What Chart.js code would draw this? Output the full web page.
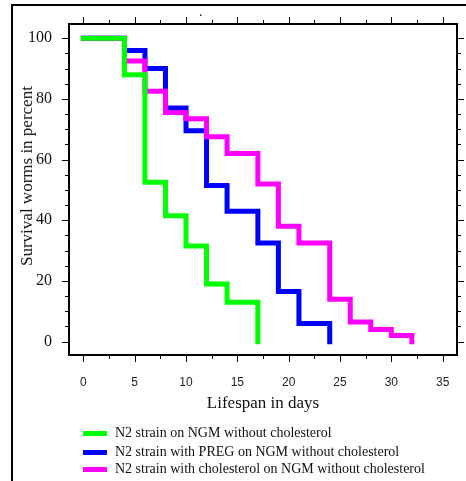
<!DOCTYPE html>
<html>
<head>
<meta charset="utf-8">
<script src="https://cdn.jsdelivr.net/npm/chart.js@4"></script>
<style>
  html, body { margin: 0; padding: 0; background: #fff; }
  #wrap { position: relative; width: 466px; height: 481px; overflow: hidden; font-family: "Liberation Serif", "Times New Roman", serif; color: #111; }
  #frame { position: absolute; left: 11px; top: 4px; width: 470px; height: 490px; border-left: 2px solid #000; border-top: 2px solid #000; }
  canvas { position: absolute; left: 0; top: 0; }
  #dot { position: absolute; left: 199px; top: 4px; font-size: 14px; }
  #ytitle { position: absolute; left: 27px; top: 176px; font-size: 17px; white-space: nowrap; transform: translate(-50%, -50%) rotate(-90deg); }
  .leg { position: absolute; left: 83px; height: 18px; display: flex; align-items: center; font-size: 14px; white-space: nowrap; }
  .sw { width: 24px; height: 5px; margin-right: 8px; }
</style>
</head>
<body>
<div id="wrap">
  <div id="frame"></div>
  <canvas id="c" width="466" height="481"></canvas>
  <span id="dot">.</span>
  <div id="ytitle">Survival worms in percent</div>
  <div class="leg" style="top:424px"><span class="sw" style="background:#00ff00"></span><span id="l0"></span></div>
  <div class="leg" style="top:443px"><span class="sw" style="background:#0000ff"></span><span id="l1"></span></div>
  <div class="leg" style="top:460px"><span class="sw" style="background:#ff00ff"></span><span id="l2"></span></div>
</div>
<script>
const seriesLabels = [
  "N2 strain on NGM without cholesterol",
  "N2 strain with PREG on NGM without cholesterol",
  "N2 strain with cholesterol on NGM without cholesterol"
];

// survival curves: day of each drop, % alive from that day on
const greenDays = [0, 4, 6, 8, 10, 12, 14, 17];
const greenSurvival = [100, 88, 52.5, 41.5, 31.5, 19, 13, 0];

const blueDays = [0, 4, 6, 8, 10, 12, 14, 17, 19, 21, 24];
const blueSurvival = [100, 96, 90, 77, 69.5, 51.5, 43, 32.5, 16.5, 6, 0];

const pinkDays = [0, 4, 6, 8, 10, 12, 14, 17, 19, 21, 24, 26, 28, 30, 32];
const pinkSurvival = [100, 92.5, 82.5, 75.5, 73.5, 67.5, 62, 52, 38, 32.5, 14, 6.5, 4, 2, 0];

const xTicks = [0, 5, 10, 15, 20, 25, 30, 35];
const yTicks = [0, 20, 40, 60, 80, 100];

seriesLabels.forEach((t, i) => { document.getElementById("l" + i).textContent = t; });

const toPoints = (xs, ys) => xs.map((d, i) => ({ x: d, y: ys[i] }));

// box around the plot with outward ticks on all four sides
const framePlugin = {
  id: "frame",
  afterDraw(chart) {
    const { ctx, chartArea: a, scales: { x, y } } = chart;
    const line = (x1, y1, x2, y2) => { ctx.beginPath(); ctx.moveTo(x1, y1); ctx.lineTo(x2, y2); ctx.stroke(); };
    ctx.save();
    ctx.strokeStyle = "#000";
    ctx.lineWidth = 1;
    const xStep = (xTicks[1] - xTicks[0]) / 2;
    for (let v = xTicks[0]; v <= xTicks[xTicks.length - 1]; v += xStep) {
      const px = Math.round(x.getPixelForValue(v)) + 0.5;
      const len = v % (xStep * 2) === 0 ? 7 : 4;
      line(px, a.bottom, px, a.bottom + len);
      line(px, a.top, px, a.top - len);
    }
    const yStep = (yTicks[1] - yTicks[0]) / 4;
    for (let v = yTicks[0]; v <= yTicks[yTicks.length - 1]; v += yStep) {
      const py = Math.round(y.getPixelForValue(v)) + 0.5;
      const len = v % (yStep * 4) === 0 ? 7 : 4;
      line(a.left, py, a.left - len, py);
      line(a.right, py, a.right + len, py);
    }
    ctx.lineWidth = 2;
    ctx.strokeRect(a.left, a.top, a.right - a.left, a.bottom - a.top);
    ctx.restore();
  }
};

const lineStyle = { borderWidth: 5, stepped: "before", fill: false, pointRadius: 0, borderCapStyle: "square", borderJoinStyle: "miter" };

new Chart(document.getElementById("c"), {
  type: "line",
  data: {
    datasets: [
      { label: seriesLabels[0], data: toPoints(greenDays, greenSurvival), borderColor: "#00ff00", order: 0, ...lineStyle },
      { label: seriesLabels[1], data: toPoints(blueDays, blueSurvival), borderColor: "#0000ff", order: 2, ...lineStyle },
      { label: seriesLabels[2], data: toPoints(pinkDays, pinkSurvival), borderColor: "#ff00ff", order: 1, ...lineStyle }
    ]
  },
  options: {
    responsive: false,
    animation: false,
    layout: { padding: { top: 24, right: 9, left: 0, bottom: 0 } },
    plugins: { legend: { display: false }, tooltip: { enabled: false } },
    scales: {
      x: {
        type: "linear",
        min: -1.4,
        max: 36.4,
        afterFit: s => { s.height = 126; },
        afterBuildTicks: s => { s.ticks = xTicks.map(v => ({ value: v })); },
        grid: { display: false },
        border: { display: false },
        ticks: { padding: 12, color: "#222", font: { family: "Liberation Sans", size: 12 } },
        title: {
          display: true,
          text: "Lifespan in days",
          color: "#111",
          font: { family: "Liberation Serif", size: 17 },
          padding: { top: 0, bottom: 67 }
        }
      },
      y: {
        type: "linear",
        min: -4.4,
        max: 104.7,
        afterFit: s => { s.width = 69; },
        afterBuildTicks: s => { s.ticks = yTicks.map(v => ({ value: v })); },
        grid: { display: false },
        border: { display: false },
        ticks: { padding: 9, color: "#111", font: { family: "Liberation Serif", size: 16 } }
      }
    }
  },
  plugins: [framePlugin]
});
</script>
</body>
</html>
